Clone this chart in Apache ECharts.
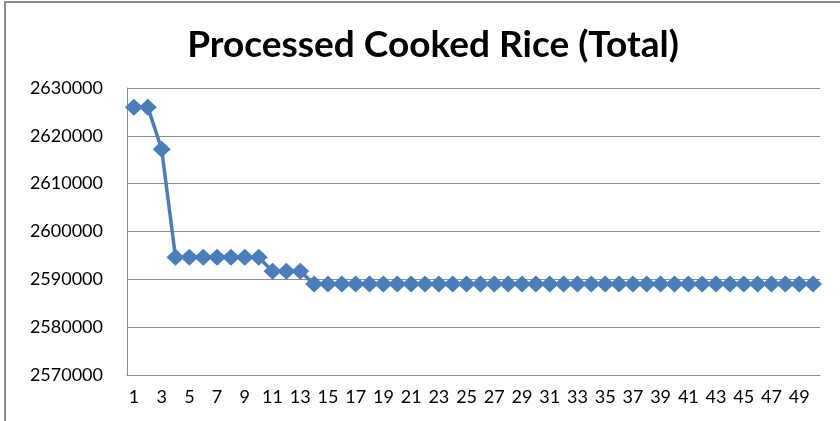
<!DOCTYPE html>
<html>
<head>
<meta charset="utf-8">
<script src="https://cdn.jsdelivr.net/npm/echarts@6/dist/echarts.min.js"></script>
<style>
  html, body { margin: 0; padding: 0; background: #fff; }
  #chart { width: 840px; height: 421px; }
</style>
</head>
<body>
<div id="chart"></div>
<script>
// x categories 1..50
const categories = ['1','2','3','4','5','6','7','8','9','10','11','12','13','14','15','16','17','18','19','20',
  '21','22','23','24','25','26','27','28','29','30','31','32','33','34','35','36','37','38','39','40',
  '41','42','43','44','45','46','47','48','49','50'];

// values
const totals = [2626000, 2626000, 2617200,
  2594600, 2594600, 2594600, 2594600, 2594600, 2594600, 2594600,
  2591700, 2591700, 2591700,
  2589000, 2589000, 2589000, 2589000, 2589000, 2589000, 2589000, 2589000, 2589000, 2589000,
  2589000, 2589000, 2589000, 2589000, 2589000, 2589000, 2589000, 2589000, 2589000, 2589000,
  2589000, 2589000, 2589000, 2589000, 2589000, 2589000, 2589000, 2589000, 2589000, 2589000,
  2589000, 2589000, 2589000, 2589000, 2589000, 2589000, 2589000];

const yMin = 2570000, yMax = 2630000, yStep = 10000;

let myChart = echarts.init(document.getElementById('chart'));

let option = {
  animation: false,
  backgroundColor: '#fff',
  title: {
    text: 'Processed Cooked Rice (Total)',
    left: 428,
    textAlign: 'center',
    top: 22,
    textStyle: { fontFamily: 'Lato', fontWeight: 'bold', fontSize: 37, color: '#000' }
  },
  graphic: [
    // outer chart border (cut by the picture on right and bottom)
    { type: 'rect', shape: { x: 5, y: 2, width: 900, height: 500 },
      style: { fill: 'none', stroke: '#8c8c8c', lineWidth: 2 }, silent: true }
  ],
  grid: { left: 127, right: 20, top: 88, bottom: 46, containLabel: false },
  xAxis: {
    type: 'category',
    data: categories,
    boundaryGap: true,
    axisLine: { lineStyle: { color: '#8c8c8c', width: 1 } },
    axisTick: { show: false },
    axisLabel: { interval: 1, color: '#000', fontFamily: 'Lato', fontSize: 18, margin: 13 }
  },
  yAxis: {
    type: 'value',
    min: yMin,
    max: yMax,
    interval: yStep,
    axisLine: { show: true, lineStyle: { color: '#8c8c8c', width: 1 } },
    axisTick: { show: false },
    splitLine: { lineStyle: { color: '#8c8c8c', width: 1 } },
    axisLabel: { color: '#000', fontFamily: 'Lato', fontSize: 18, margin: 24,
      formatter: function (v) { return String(v); } }
  },
  series: [
    {
      name: 'Total',
      type: 'line',
      data: totals,
      symbol: 'diamond',
      symbolSize: [18, 17],
      showAllSymbol: true,
      lineStyle: { color: '#4a7ebb', width: 3.5 },
      itemStyle: { color: '#4a7ebb' }
    }
  ]
};

myChart.setOption(option);
</script>
</body>
</html>
